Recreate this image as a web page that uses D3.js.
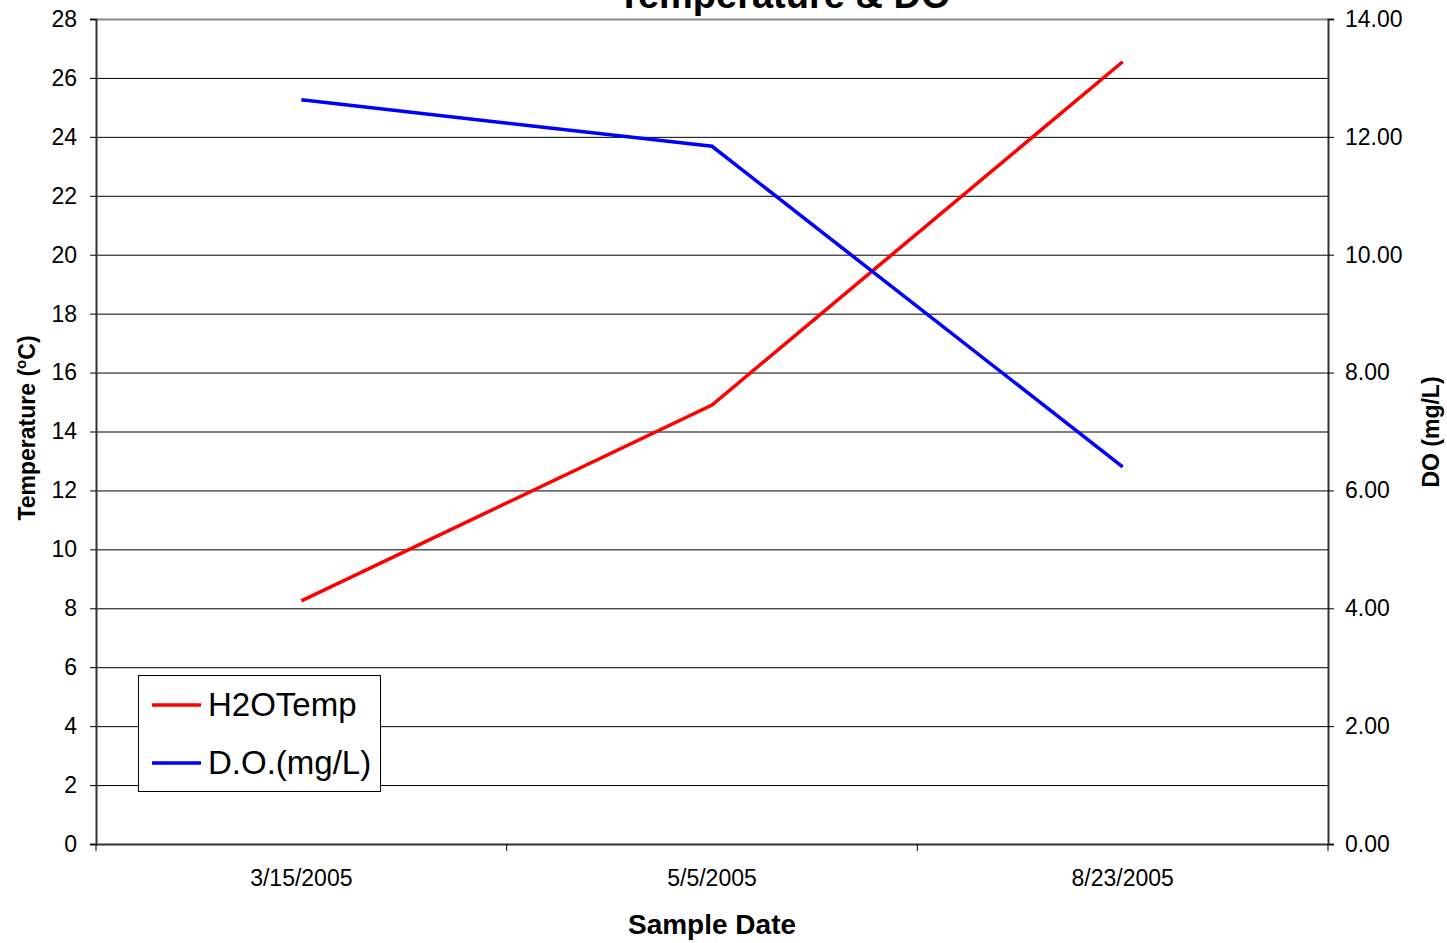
<!DOCTYPE html>
<html><head><meta charset="utf-8">
<script src="https://cdn.jsdelivr.net/npm/d3@7"></script>
<style>body{margin:0;background:#fff}svg{display:block;font-family:Arial,"Liberation Sans",sans-serif}</style>
</head><body><svg id="c" width="1447" height="943"></svg>
<script>
const categories = ["3/15/2005", "5/5/2005", "8/23/2005"];
const tempValues = [8.25, 14.9, 26.55];
const doValues = [12.63, 11.84, 6.4];
const leftTicks = [0,2,4,6,8,10,12,14,16,18,20,22,24,26,28];
const rightTicks = [0,2,4,6,8,10,12,14];
const seriesNames = ["H2OTemp", "D.O.(mg/L)"];
const seriesColors = ["#ff0000", "#0000ff"];

const svg = d3.select("#c");
const L = 96, R = 1328, T = 19, B = 844;
const x = d3.scaleBand().domain(categories).range([L, R]);
const yL = d3.scaleLinear().domain([0, 28]).range([B, T]);
const yR = d3.scaleLinear().domain([0, 14]).range([B, T]);

// gridlines
svg.append("g").selectAll("line").data(leftTicks.filter(d => d > 0 && d < 28)).join("line")
  .attr("x1", L).attr("x2", R).attr("y1", d => yL(d) + 0.5).attr("y2", d => yL(d) + 0.5)
  .attr("stroke", "#000").attr("stroke-width", 1);
// top border
svg.append("line").attr("x1", L).attr("x2", R).attr("y1", T + 0.5).attr("y2", T + 0.5)
  .attr("stroke", "#888").attr("stroke-width", 2);

const axL = svg.append("g").attr("transform", `translate(${L},0)`)
  .call(d3.axisLeft(yL).tickValues(leftTicks).tickSize(6).tickPadding(13).tickFormat(d3.format("d")));
const axR = svg.append("g").attr("transform", `translate(${R},0)`)
  .call(d3.axisRight(yR).tickValues(rightTicks).tickSize(6).tickPadding(11).tickFormat(d3.format(".2f")));
const axB = svg.append("g").attr("transform", `translate(0,${B})`)
  .call(d3.axisBottom(x).tickSize(0).tickPadding(26));
// x ticks at band boundaries
svg.append("g").selectAll("line").data(categories.map(c => x(c)).concat([R])).join("line")
  .attr("x1", d => d).attr("x2", d => d).attr("y1", B).attr("y2", B + 7)
  .attr("stroke", "#000").attr("stroke-width", 1);

[axL, axR, axB].forEach(a => {
  a.select(".domain").attr("stroke", "#333").attr("stroke-width", 2);
  a.selectAll(".tick line").attr("stroke", "#000");
  a.selectAll("text").attr("font-family", "Arial, 'Liberation Sans', sans-serif").attr("font-size", 23).attr("fill", "#000");
});
axB.select(".domain").attr("d", `M${L},0.5H${R}`);

// lines
const lineT = d3.line().x((d, i) => x(categories[i]) + x.bandwidth() / 2).y(d => yL(d));
const lineD = d3.line().x((d, i) => x(categories[i]) + x.bandwidth() / 2).y(d => yR(d));
svg.append("path").attr("d", lineT(tempValues)).attr("fill", "none").attr("stroke", seriesColors[0]).attr("stroke-width", 3.5);
svg.append("path").attr("d", lineD(doValues)).attr("fill", "none").attr("stroke", seriesColors[1]).attr("stroke-width", 3.5);

// title
svg.append("text").attr("x", 784).attr("y", 8).attr("text-anchor", "middle")
  .attr("font-weight", "bold").attr("font-size", 38).text("Temperature & DO");
// axis titles
svg.append("text").attr("x", 712).attr("y", 934).attr("text-anchor", "middle")
  .attr("font-weight", "bold").attr("font-size", 28).text("Sample Date");
const yt = svg.append("text").attr("transform", "translate(35,428) rotate(-90)").attr("text-anchor", "middle")
  .attr("font-weight", "bold").attr("font-size", 23);
yt.append("tspan").text("Temperature (");
yt.append("tspan").attr("font-size", 15).attr("dy", -9).text("o");
yt.append("tspan").attr("dy", 9).text("C)");
svg.append("text").attr("transform", "translate(1439,432) rotate(-90)").attr("text-anchor", "middle")
  .attr("font-weight", "bold").attr("font-size", 23).text("DO (mg/L)");

// legend
const lg = svg.append("g");
lg.append("rect").attr("x", 138.5).attr("y", 675.5).attr("width", 242).attr("height", 116)
  .attr("fill", "#fff").attr("stroke", "#000").attr("stroke-width", 1);
seriesNames.forEach((n, i) => {
  const yy = 705 + i * 58;
  lg.append("line").attr("x1", 152).attr("x2", 201).attr("y1", yy).attr("y2", yy)
    .attr("stroke", seriesColors[i]).attr("stroke-width", 3.5);
  lg.append("text").attr("x", 208).attr("y", yy + 11).attr("font-size", 33).text(n);
});
</script></body></html>
